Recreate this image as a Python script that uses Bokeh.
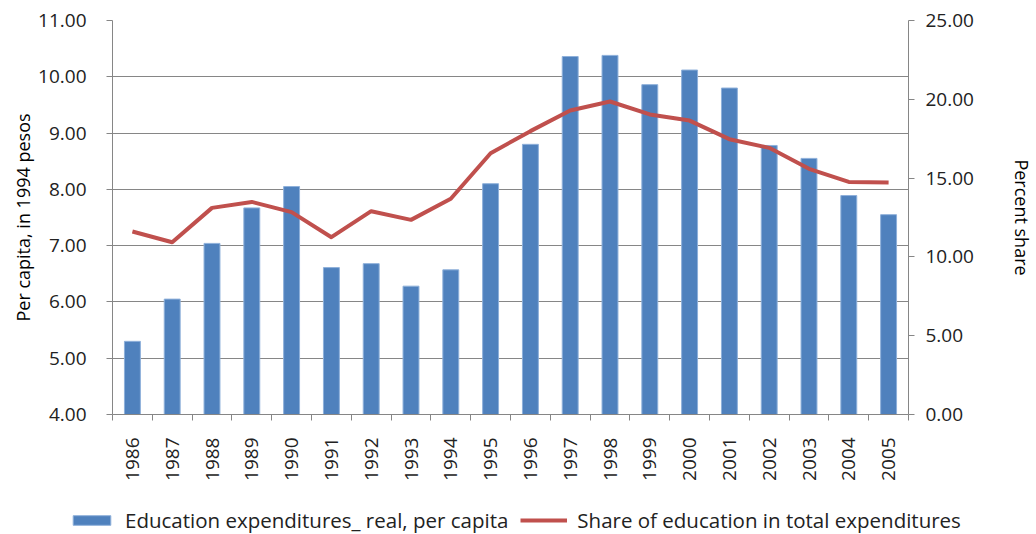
import numpy as np
from bokeh.plotting import figure
from bokeh.layouts import column
from bokeh.models import (Range1d, LinearAxis, FixedTicker, NumeralTickFormatter,
                          Legend, LegendItem, ColumnDataSource)
from bokeh.embed import file_html
from bokeh.resources import INLINE

years = ["1986", "1987", "1988", "1989", "1990", "1991", "1992", "1993", "1994", "1995",
         "1996", "1997", "1998", "1999", "2000", "2001", "2002", "2003", "2004", "2005"]
expend_per_capita = [5.30, 6.05, 7.04, 7.67, 8.05, 6.61, 6.68, 6.28, 6.57, 8.10,
                     8.80, 10.36, 10.38, 9.86, 10.12, 9.80, 8.78, 8.55, 7.89, 7.55]
share_pct = [11.61, 10.93, 13.11, 13.49, 12.84, 11.25, 12.90, 12.35, 13.69, 16.58,
             17.98, 19.29, 19.86, 19.04, 18.65, 17.47, 16.92, 15.59, 14.76, 14.72]
series_names = ["Education expenditures_ real, per capita",
                "Share of education in total expenditures"]

FONT = "Open Sans"
GRAY = "#868686"
BAR_FILL = "#4F81BD"
BAR_LINE = "#8EB0DA"
LINE_COL = "#C0504D"

xpos = [i + 0.5 for i in range(len(years))]
src = ColumnDataSource(dict(x=xpos, year=years, exp=expend_per_capita, share=share_pct))

p = figure(width=1036, height=490, output_backend="svg", toolbar_location=None,
           x_range=Range1d(0, len(years)), y_range=Range1d(4, 11),
           min_border_left=112, min_border_right=123, min_border_top=20, min_border_bottom=76)
p.frame_align = False
p.outline_line_color = None
p.xgrid.grid_line_color = None
p.ygrid.grid_line_color = GRAY
p.ygrid.grid_line_width = 1
p.ygrid.ticker = FixedTicker(ticks=[4, 5, 6, 7, 8, 9, 10, 11])

p.extra_y_ranges = {"pct": Range1d(0, 25)}

p.vbar(x="x", top="exp", bottom=4, width=0.4, source=src,
       fill_color=BAR_FILL, line_color=BAR_LINE, line_width=1)
p.line(x="x", y="share", source=src, y_range_name="pct",
       line_color=LINE_COL, line_width=4, line_join="round")

# x axis
xa = p.xaxis[0]
xa.ticker = FixedTicker(ticks=xpos, minor_ticks=list(range(len(years) + 1)))
xa.major_label_overrides = {x: y for x, y in zip(xpos, years)}
xa.major_label_orientation = np.pi / 2
xa.major_tick_out = 0
xa.major_tick_in = 0
xa.minor_tick_out = 6
xa.minor_tick_in = 0
xa.minor_tick_line_color = GRAY
xa.axis_line_color = GRAY
xa.major_label_text_font = FONT
xa.major_label_text_font_size = "19px"
xa.major_label_text_color = "#222222"
xa.major_label_standoff = 17

# left axis
ya = p.yaxis[0]
ya.ticker = FixedTicker(ticks=[4, 5, 6, 7, 8, 9, 10, 11])
ya.formatter = NumeralTickFormatter(format="0.00")
ya.axis_label = "Per capita, in 1994 pesos"
ya.axis_label_text_font = FONT
ya.axis_label_text_font_size = "18px"
ya.axis_label_text_font_style = "normal"
ya.axis_label_text_color = "#000000"
ya.axis_label_standoff = 0
ya.major_label_text_font = FONT
ya.major_label_text_font_size = "19px"
ya.major_label_text_color = "#222222"
ya.major_label_standoff = 20
ya.major_tick_out = 6
ya.major_tick_in = 0
ya.minor_tick_line_color = None
ya.axis_line_color = GRAY
ya.major_tick_line_color = GRAY

# right axis
ra = LinearAxis(y_range_name="pct", ticker=FixedTicker(ticks=[0, 5, 10, 15, 20, 25]),
                formatter=NumeralTickFormatter(format="0.00"))
ra.axis_label = "Percent share"
ra.axis_label_text_font = FONT
ra.axis_label_text_font_size = "18px"
ra.axis_label_text_font_style = "normal"
ra.axis_label_text_color = "#000000"
ra.axis_label_standoff = 33
ra.major_label_text_font = FONT
ra.major_label_text_font_size = "19px"
ra.major_label_text_color = "#222222"
ra.major_label_standoff = 11
ra.major_tick_out = 6
ra.major_tick_in = 0
ra.minor_tick_line_color = None
ra.axis_line_color = GRAY
ra.major_tick_line_color = GRAY
p.add_layout(ra, "right")

# legend strip below the chart
lg = figure(width=1036, height=44, output_backend="svg", toolbar_location=None,
            x_range=Range1d(0, 1), y_range=Range1d(0, 1),
            x_axis_location=None, y_axis_location=None, min_border=0)
lg.frame_align = False
lg.outline_line_color = None
lg.grid.grid_line_color = None
offscreen = ColumnDataSource(dict(x=[-10, -9], y=[-10, -10]))
lb = lg.vbar(x="x", top="y", bottom=-20, width=0.1, source=offscreen,
             fill_color=BAR_FILL, line_color=BAR_LINE)
ll = lg.line(x="x", y="y", source=offscreen, line_color=LINE_COL, line_width=4)
legend = Legend(items=[LegendItem(label=series_names[0], renderers=[lb]),
                       LegendItem(label=series_names[1], renderers=[ll])],
                orientation="horizontal", location=(68, 0),
                label_text_font=FONT, label_text_font_size="20.5px", label_text_color="#222222",
                glyph_width=47, glyph_height=12, label_standoff=10, spacing=12,
                border_line_alpha=0, background_fill_alpha=0, margin=0, padding=0)
lg.add_layout(legend, "center")

open("out.html", "w").write(file_html(column(p, lg, spacing=0), INLINE))
